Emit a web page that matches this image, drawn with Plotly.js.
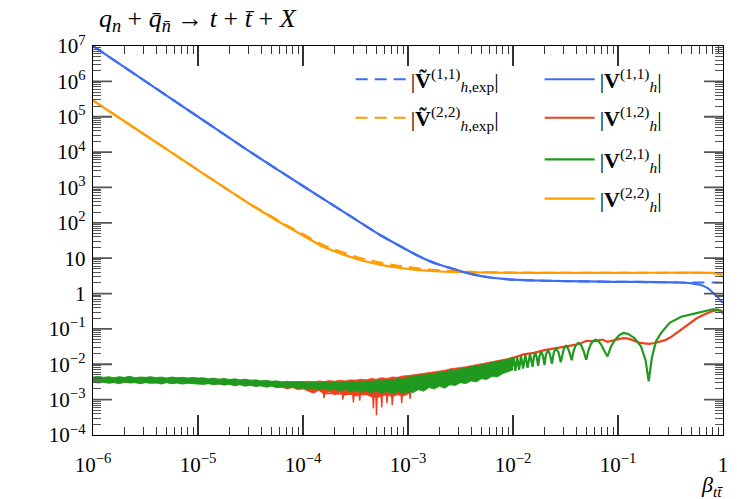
<!DOCTYPE html>
<html><head><meta charset="utf-8">
<script src="https://cdn.plot.ly/plotly-3.0.1.min.js"></script>
<style>html,body{margin:0;padding:0;background:#fff}#chart{width:747px;height:499px}</style>
</head><body><div id="chart"></div>
<script>
// ---------- data ----------
const xTickVals = [1e-6, 1e-5, 1e-4, 1e-3, 1e-2, 1e-1, 1];
const xTickText = ['10<sup>−6</sup>','10<sup>−5</sup>','10<sup>−4</sup>','10<sup>−3</sup>','10<sup>−2</sup>','10<sup>−1</sup>','1'];
const yTickVals = [1e-4, 1e-3, 1e-2, 1e-1, 1, 10, 1e2, 1e3, 1e4, 1e5, 1e6, 1e7];
const yTickText = ['10<sup>−4</sup>','10<sup>−3</sup>','10<sup>−2</sup>','10<sup>−1</sup>','1','10','10<sup>2</sup>','10<sup>3</sup>','10<sup>4</sup>','10<sup>5</sup>','10<sup>6</sup>','10<sup>7</sup>'];

// |V_h^(1,1)|
const blueX = [1e-6, 3.162e-6, 1e-5, 3.162e-5, 1e-4, 3.162e-4, 5.37e-4, 7.943e-4, 1e-3, 1.259e-3, 1.585e-3, 1.995e-3, 2.512e-3, 3.162e-3, 3.981e-3, 5.012e-3, 6.31e-3, 7.943e-3, 1e-2, 2.089e-2, 5.012e-2, 8.913e-2, 0.2512, 0.389, 0.5012, 0.6026, 0.7079, 0.8035, 0.8913, 0.955, 1];
const blueY = [1e7, 1e6, 1e5, 1e4, 1.1e3, 125, 46, 24, 16.5, 11.5, 8.4, 6.5, 5.3, 4.3, 3.6, 3.1, 2.8, 2.6, 2.47, 2.3, 2.2, 2.15, 2.1, 2.05, 1.95, 1.78, 1.45, 1.05, 0.78, 0.62, 0.55];
// |V~_h,exp^(1,1)|
const blueExpX = [1e-6, 3.162e-6, 1e-5, 3.162e-5, 1e-4, 3.162e-4, 5.37e-4, 7.943e-4, 1e-3, 1.259e-3, 1.585e-3, 1.995e-3, 2.512e-3, 3.162e-3, 3.981e-3, 5.012e-3, 6.31e-3, 7.943e-3, 1e-2, 2.089e-2, 5.012e-2, 8.913e-2, 0.2512, 0.389, 0.5012, 0.6026, 0.7079, 0.8035, 0.8913, 1];
const blueExpY = [1e7, 1e6, 1e5, 1e4, 1.1e3, 125, 46, 24, 16.5, 11.5, 8.4, 6.5, 5.3, 4.3, 3.6, 3.1, 2.8, 2.6, 2.47, 2.3, 2.2, 2.15, 2.1, 2.05, 2.05, 2.05, 2.05, 2.05, 2.04, 2.02];
// |V_h^(2,2)|
const orangeX = [1e-6, 3.162e-6, 1e-5, 3.162e-5, 7.482e-5, 1e-4, 1.549e-4, 3.236e-4, 5.37e-4, 6.761e-4, 1e-3, 1.288e-3, 1.995e-3, 3.467e-3, 1e-2, 0.1, 0.5012, 0.7943, 0.8913, 0.955, 1];
const orangeY = [2.9e5, 3.0e4, 3.1e3, 3.3e2, 71, 44, 21, 9.5, 6.6, 5.8, 5.0, 4.6, 4.2, 4.0, 3.85, 3.85, 3.9, 3.85, 3.6, 3.3, 3.0];
// |V~_h,exp^(2,2)|
const orangeExpX = [1e-6, 3.162e-6, 1e-5, 3.162e-5, 7.482e-5, 1e-4, 1.549e-4, 3.236e-4, 5.37e-4, 6.761e-4, 1e-3, 1.288e-3, 1.995e-3, 3.467e-3, 1e-2, 0.1, 0.5012, 1];
const orangeExpY = [2.9e5, 3.0e4, 3.1e3, 3.35e2, 76, 48, 23.5, 10.8, 7.5, 6.6, 5.6, 5.1, 4.5, 4.15, 3.9, 3.85, 3.85, 3.75];

// dense (unresolved) oscillation region: envelopes, log10 values on the grid log10(beta) = -6, -5.95, ..., -2
const greenUpLog = [-2.36,-2.34,-2.37,-2.35,-2.38,-2.35,-2.37,-2.34,-2.38,-2.36,-2.37,-2.35,-2.38,-2.36,-2.39,-2.36,-2.38,-2.37,-2.39,-2.37,-2.39,
  -2.38,-2.41,-2.39,-2.42,-2.40,-2.43,-2.41,-2.44,-2.42,-2.45,-2.44,-2.47,-2.45,-2.48,-2.47,-2.50,-2.48,-2.51,-2.49,-2.50,
  -2.52,-2.49,-2.52,-2.50,-2.53,-2.50,-2.52,-2.49,-2.51,-2.48,-2.50,-2.47,-2.49,-2.45,-2.47,-2.43,-2.45,-2.40,-2.42,-2.36,
  -2.35,-2.30,-2.31,-2.26,-2.27,-2.22,-2.22,-2.17,-2.17,-2.12,-2.11,-2.07,-2.05,-2.01,-1.99,-1.95,-1.93,-1.89,-1.86,-1.81];
const greenLowLog = [-2.50,-2.53,-2.51,-2.54,-2.52,-2.55,-2.51,-2.53,-2.52,-2.55,-2.52,-2.54,-2.53,-2.56,-2.52,-2.55,-2.53,-2.56,-2.54,-2.55,-2.54,
  -2.57,-2.55,-2.58,-2.56,-2.59,-2.57,-2.61,-2.58,-2.62,-2.60,-2.63,-2.61,-2.65,-2.62,-2.66,-2.64,-2.67,-2.65,-2.69,-2.67,
  -2.70,-2.68,-2.72,-2.69,-2.74,-2.70,-2.76,-2.71,-2.78,-2.73,-2.80,-2.74,-2.82,-2.75,-2.84,-2.76,-2.85,-2.77,-2.83,-2.78,
  -2.80,-2.72,-2.76,-2.66,-2.70,-2.62,-2.68,-2.58,-2.60,-2.52,-2.55,-2.47,-2.50,-2.41,-2.43,-2.34,-2.36,-2.27,-2.22,-2.16];
const redUpLog = [-2.38,-2.36,-2.38,-2.37,-2.39,-2.37,-2.38,-2.36,-2.39,-2.37,-2.38,-2.37,-2.39,-2.38,-2.40,-2.38,-2.39,-2.38,-2.40,-2.39,-2.40,
  -2.40,-2.42,-2.41,-2.43,-2.42,-2.44,-2.43,-2.45,-2.44,-2.46,-2.46,-2.48,-2.47,-2.49,-2.48,-2.50,-2.49,-2.50,-2.49,-2.49,
  -2.48,-2.50,-2.47,-2.49,-2.46,-2.48,-2.45,-2.47,-2.44,-2.45,-2.42,-2.44,-2.40,-2.42,-2.38,-2.40,-2.36,-2.37,-2.33,-2.32,
  -2.30,-2.27,-2.26,-2.22,-2.21,-2.18,-2.17,-2.13,-2.12,-2.09,-2.07,-2.04,-2.02,-1.99,-1.97,-1.93,-1.91,-1.87,-1.84,-1.79];
const redLowLog = [-2.49,-2.51,-2.50,-2.52,-2.51,-2.53,-2.50,-2.52,-2.51,-2.53,-2.51,-2.53,-2.52,-2.54,-2.51,-2.54,-2.52,-2.54,-2.53,-2.54,-2.53,
  -2.55,-2.54,-2.56,-2.55,-2.57,-2.56,-2.59,-2.57,-2.60,-2.59,-2.61,-2.60,-2.63,-2.61,-2.66,-2.65,-2.70,-2.66,-2.72,-2.70,
  -2.75,-2.82,-2.74,-2.84,-2.78,-2.86,-2.80,-2.88,-2.82,-2.90,-2.86,-2.85,-2.92,-2.95,-2.90,-2.86,-2.92,-2.86,-2.90,-2.85,
  -2.70,-2.62,-2.66,-2.55,-2.58,-2.50,-2.52,-2.45,-2.46,-2.40,-2.40,-2.35,-2.34,-2.28,-2.27,-2.21,-2.18,-2.12,-2.08,-1.98];
// isolated deep downward spikes of |V_h^(1,2)| (log10 beta, log10 value)
const redSpikeLogX = [-3.806,-3.80,-3.794, -3.626,-3.62,-3.614, -3.526,-3.52,-3.514, -3.466,-3.46,-3.454, -3.336,-3.33,-3.324, -3.306,-3.30,-3.294, -3.256,-3.25,-3.244, -3.206,-3.20,-3.194, -3.156,-3.15,-3.144, -3.066,-3.06,-3.054, -2.986,-2.98,-2.974];
const redSpikeLogY = [-2.82,-2.96,-2.82, -2.84,-3.00,-2.84, -2.85,-3.08,-2.85, -2.85,-3.03,-2.85, -2.86,-3.25,-2.86, -2.86,-3.45,-2.86, -2.86,-3.22,-2.86, -2.85,-3.10,-2.85, -2.85,-3.16,-2.85, -2.84,-3.10,-2.84, -2.80,-2.98,-2.80];

// resolved oscillations, beta >= 0.01
// |V_h^(1,2)|
const redX = [0.01, 0.01259, 0.01585, 0.01995, 0.02512, 0.03162, 0.03548, 0.03981, 0.04467, 0.05012, 0.05623, 0.0631, 0.07079, 0.07943, 0.08913, 0.1, 0.1122, 0.1259, 0.1413, 0.1585, 0.1778, 0.1995, 0.2239, 0.2512, 0.2818, 0.3162, 0.3548, 0.3981, 0.4467, 0.5012, 0.5623, 0.631, 0.7079, 0.7943, 0.8913, 0.955, 1];
const redY = [0.015, 0.019, 0.021, 0.025, 0.028, 0.031, 0.034, 0.036, 0.040, 0.046, 0.045, 0.046, 0.050, 0.043, 0.047, 0.052, 0.055, 0.053, 0.047, 0.041, 0.039, 0.038, 0.040, 0.043, 0.048, 0.058, 0.075, 0.097, 0.125, 0.16, 0.20, 0.24, 0.28, 0.32, 0.34, 0.33, 0.30];
// |V_h^(2,1)|
const greenX = [0.01, 0.01012, 0.01052, 0.01095, 0.01142, 0.01193, 0.01248, 0.0131, 0.01377, 0.01452, 0.01536, 0.0158, 0.0163, 0.0168, 0.01736, 0.0179, 0.01857, 0.0193, 0.01996, 0.0206, 0.0216, 0.0225, 0.0235, 0.0245, 0.0257, 0.0271, 0.0285, 0.0296, 0.0306, 0.0319, 0.0333, 0.0346, 0.0362, 0.0378, 0.0395, 0.0419, 0.0445, 0.047, 0.0498, 0.0522, 0.0549, 0.0578, 0.0612, 0.0649, 0.069, 0.074, 0.0794, 0.0858, 0.0932, 0.103, 0.113, 0.125, 0.1433, 0.1656, 0.183, 0.196, 0.21, 0.23, 0.26, 0.31, 0.4, 0.56, 0.7, 0.8, 0.9, 0.95, 1.0];
const greenY = [0.009, 0.0155, 0.0065, 0.016, 0.007, 0.017, 0.0075, 0.018, 0.008, 0.0195, 0.0085, 0.016, 0.021, 0.016, 0.009, 0.017, 0.023, 0.017, 0.0095, 0.019, 0.025, 0.019, 0.0104, 0.022, 0.028, 0.022, 0.0114, 0.021, 0.029, 0.033, 0.029, 0.021, 0.013, 0.024, 0.034, 0.040, 0.035, 0.024, 0.0135, 0.024, 0.036, 0.045, 0.0495, 0.046, 0.036, 0.024, 0.0166, 0.032, 0.048, 0.067, 0.077, 0.072, 0.055, 0.032, 0.013, 0.0033, 0.015, 0.045, 0.08, 0.148, 0.22, 0.28, 0.33, 0.36, 0.35, 0.32, 0.27];

const legendNames = {
  b11exp: '|<b>Ṽ</b><sup>(1,1)</sup><sub><i>h</i>,exp</sub>|',
  o22exp: '|<b>Ṽ</b><sup>(2,2)</sup><sub><i>h</i>,exp</sub>|',
  b11: '|<b>V</b><sup>(1,1)</sup><sub><i>h</i></sub>|',
  r12: '|<b>V</b><sup>(1,2)</sup><sub><i>h</i></sub>|',
  g21: '|<b>V</b><sup>(2,1)</sup><sub><i>h</i></sub>|',
  o22: '|<b>V</b><sup>(2,2)</sup><sub><i>h</i></sub>|'
};

// ---------- derived ----------
const X_RANGE = [-6, 0], Y_RANGE = [-4, 7];
const PLOT_W = 630, PLOT_H = 389;
const bandX = greenUpLog.map((_, i) => Math.pow(10, -6 + 0.05 * i));
const pow10 = a => a.map(v => Math.pow(10, v));
// short tick marks: 2..9 within each decade, plus the decades themselves (slightly offset into the decade)
const minorX = [], minorY = [];
for (let n = -6; n < 0; n++) for (let k = 2; k <= 9; k++) minorX.push(k * Math.pow(10, n));
for (let n = -4; n < 7; n++) for (let k = 2; k <= 9; k++) minorY.push(k * Math.pow(10, n));

// long decade tick marks as thin segments, each made of two close strokes
const xLenDec = 20 / PLOT_H * (Y_RANGE[1] - Y_RANGE[0]);
const yLenDec = 19 / PLOT_W * (X_RANGE[1] - X_RANGE[0]);
const xtX = [], xtY = [], ytX = [], ytY = [];
const yLo = Math.pow(10, Y_RANGE[0]), yHi = Math.pow(10, Y_RANGE[1]);
const xLo = Math.pow(10, X_RANGE[0]), xHi = Math.pow(10, X_RANGE[1]);
xTickVals.slice(1, -1).forEach(v => {
  xtX.push(v, v * 1.0001, v, null, v, v * 1.0001, v, null);
  xtY.push(yLo * 1.0001, Math.pow(10, Y_RANGE[0] + xLenDec), yLo * 1.0001, null,
           yHi * 0.9999, Math.pow(10, Y_RANGE[1] - xLenDec), yHi * 0.9999, null);
});
yTickVals.slice(1, -1).forEach(v => {
  ytY.push(v, v * 1.0001, v, null, v, v * 1.0001, v, null);
  ytX.push(xLo * 1.0001, Math.pow(10, X_RANGE[0] + yLenDec), xLo * 1.0001, null,
           xHi * 0.9999, Math.pow(10, X_RANGE[1] - yLenDec), xHi * 0.9999, null);
});

const C = {blue: '#3d6df2', red: '#f2401f', green: '#1f9a1f', orange: '#ff9c00'};
const SERIF = 'Liberation Serif, Times New Roman, serif';
const DASH = '12px,7px';
const LW = 2.2;

const traces = [
  {x: bandX, y: pow10(redLowLog), mode: 'lines', line: {color: C.red, width: 0.8}, showlegend: false, hoverinfo: 'skip'},
  {x: bandX, y: pow10(redUpLog), mode: 'lines', fill: 'tonexty', fillcolor: C.red, line: {color: C.red, width: 0.8}, showlegend: false, hoverinfo: 'skip'},
  {x: pow10(redSpikeLogX), y: pow10(redSpikeLogY), mode: 'lines', line: {color: C.red, width: 1.4}, showlegend: false, hoverinfo: 'skip'},
  {x: bandX, y: pow10(greenLowLog), mode: 'lines', line: {color: C.green, width: 0.8}, showlegend: false, hoverinfo: 'skip'},
  {x: bandX, y: pow10(greenUpLog), mode: 'lines', fill: 'tonexty', fillcolor: C.green, line: {color: C.green, width: 0.8}, showlegend: false, hoverinfo: 'skip'},
  {x: redX, y: redY, mode: 'lines', name: legendNames.r12, legend: 'legend4', line: {color: C.red, width: LW}},
  {x: greenX, y: greenY, mode: 'lines', name: legendNames.g21, legend: 'legend5', line: {color: C.green, width: LW}},
  {x: orangeX, y: orangeY, mode: 'lines', name: legendNames.o22, legend: 'legend6', line: {color: C.orange, width: LW, shape: 'spline', smoothing: 0.6}},
  {x: blueX, y: blueY, mode: 'lines', name: legendNames.b11, legend: 'legend3', line: {color: C.blue, width: LW, shape: 'spline', smoothing: 0.6}},
  {x: orangeExpX, y: orangeExpY, mode: 'lines', name: legendNames.o22exp, legend: 'legend2', line: {color: C.orange, width: LW, dash: DASH, shape: 'spline', smoothing: 0.6}},
  {x: blueExpX, y: blueExpY, mode: 'lines', name: legendNames.b11exp, legend: 'legend', line: {color: C.blue, width: LW, dash: DASH, shape: 'spline', smoothing: 0.6}},
  // decade tick marks
  {x: xtX, y: xtY, mode: 'lines', line: {color: '#000', width: 1.6, simplify: false}, connectgaps: false, cliponaxis: false, showlegend: false, hoverinfo: 'skip'},
  {x: ytX, y: ytY, mode: 'lines', line: {color: '#555', width: 1.8, simplify: false}, connectgaps: false, cliponaxis: false, showlegend: false, hoverinfo: 'skip'},
  // empty traces that host the overlay axes carrying tick marks
  {x: [], y: [], xaxis: 'x2', yaxis: 'y2', mode: 'lines', showlegend: false, hoverinfo: 'skip'}
];

const legBase = {xanchor: 'left', yanchor: 'middle', bgcolor: 'rgba(0,0,0,0)', borderwidth: 0,
  font: {family: SERIF, size: 22, color: '#000'}, itemwidth: 50, tracegroupgap: 0};
const leg = (x, y) => Object.assign({}, legBase, {x: x, y: y});

const axCommon = {showgrid: false, zeroline: false};
const tickAxis = (ov, anchor, side, rng, vals, len, width, color) => Object.assign({}, axCommon, {
  type: 'log', range: rng, overlaying: ov, anchor: anchor, side: side,
  tickmode: 'array', tickvals: vals, showticklabels: false,
  ticks: 'inside', ticklen: len, tickwidth: width, tickcolor: color, mirror: 'ticks', showline: false
});

const layout = {
  width: 747, height: 499,
  margin: {l: 93, r: 24, t: 46, b: 64},
  paper_bgcolor: '#fff', plot_bgcolor: '#fff',
  font: {family: SERIF, color: '#000'},
  xaxis: Object.assign({}, axCommon, {
    type: 'log', range: X_RANGE, tickmode: 'array', tickvals: xTickVals, ticktext: xTickText,
    ticks: '', showline: true, linecolor: '#000', linewidth: 1.3, mirror: true,
    tickfont: {family: SERIF, size: 21}, ticklabelstandoff: 10
  }),
  yaxis: Object.assign({}, axCommon, {
    type: 'log', range: Y_RANGE, tickmode: 'array', tickvals: yTickVals, ticktext: yTickText,
    ticks: '', showline: true, linecolor: '#000', linewidth: 1.3, mirror: true,
    tickfont: {family: SERIF, size: 21}, ticklabelstandoff: 2
  }),
  xaxis2: tickAxis('x', 'y', 'bottom', X_RANGE, minorX, 8, 1, '#333'),
  yaxis2: tickAxis('y', 'x', 'left', Y_RANGE, minorY, 8, 1, '#555'),
  legend: leg(0.409, 0.914),
  legend2: leg(0.409, 0.815),
  legend3: leg(0.709, 0.914),
  legend4: leg(0.709, 0.815),
  legend5: leg(0.709, 0.708),
  legend6: leg(0.709, 0.607),
  annotations: [
    {text: '<i>q<sub>n</sub></i> + <i>q̄<sub>n̄</sub></i> → <i>t</i> + <i>t̄</i> + <i>X</i>', xref: 'paper', yref: 'paper',
     x: 0.006, y: 1.067, xanchor: 'left', yanchor: 'middle', showarrow: false, font: {family: SERIF, size: 26}},
    {text: '<i>β<sub>tt̄</sub></i>', xref: 'paper', yref: 'paper', x: 0.983, y: -0.13,
     xanchor: 'center', yanchor: 'middle', showarrow: false, font: {family: SERIF, size: 22}}
  ]
};

Plotly.newPlot('chart', traces, layout, {staticPlot: true, displayModeBar: false});
</script></body></html>
